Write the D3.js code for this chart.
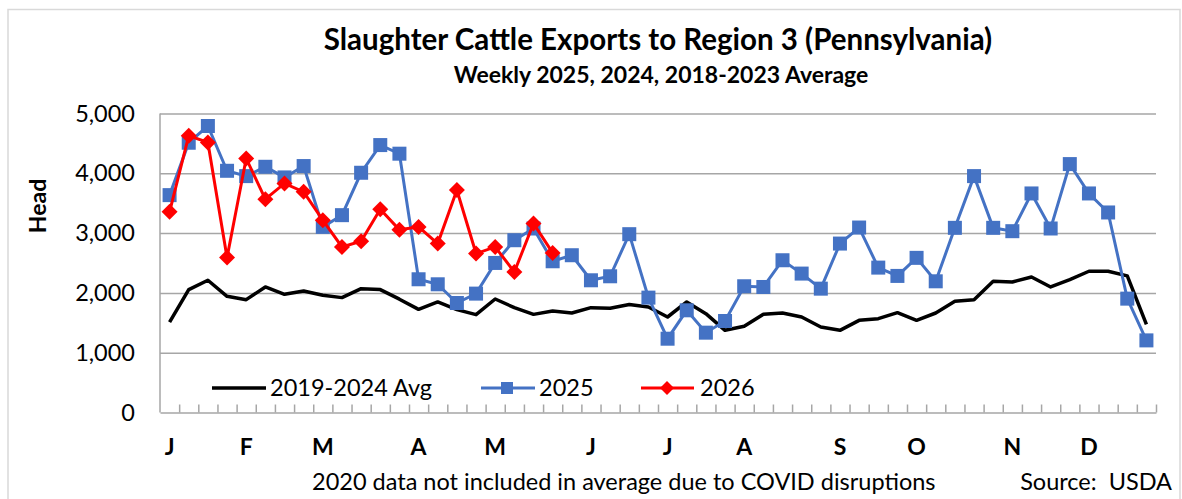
<!DOCTYPE html>
<html>
<head>
<meta charset="utf-8">
<script src="https://cdn.jsdelivr.net/npm/d3@7"></script>
<style>
  body { margin: 0; background: #fff; }
  svg { display: block; font-family: Lato, "Open Sans", sans-serif; }
</style>
</head>
<body>
<svg width="1182" height="499"></svg>
<script>
// weekly head counts
var weeks = d3.range(52);
var avg = [1512,2055,2211,1943,1887,2099,1976,2032,1960,1921,2071,2055,1895,
  1725,1848,1720,1636,1898,1753,1641,1697,1664,1753,1742,1806,
  1765,1597,1848,1653,1374,1441,1642,1664,1597,1429,
  1374,1541,1569,1670,1541,1664,1859,1887,2194,2183,2267,2099,2223,2362,2362,2284,1474];
var s2025 = [3635,4511,4791,4042,3953,4109,3931,4121,3104,3300,4009,4472,4328,
  2228,2144,1831,1988,2501,2881,3077,2529,2630,2211,2278,2982,
  1921,1234,1709,1335,1530,2111,2099,2546,2323,2071,
  2825,3093,2423,2284,2586,2194,3088,3953,3088,3032,3663,3077,4154,3663,3345,1904,1206];
var s2026 = [3355,4628,4517,2591,4248,3568,3831,3690,3216,2769,2864,3400,3055,
  3104,2825,3719,2658,2769,2350,3160,2669];
var monthWeeks = [0,4,8,13,17,22,26,30,35,39,44,48];
var monthLabels = ["J","F","M","A","M","J","J","A","S","O","N","D"];
var yTicks = [0,1000,2000,3000,4000,5000];

var svg = d3.select("svg");
var pLeft = 160, pRight = 1156, pTop = 113.5, pBottom = 412.5;
var fs = 23.5;

// chart frame
svg.append("rect").attr("x", 8).attr("y", 9.5).attr("width", 1172).attr("height", 500)
  .attr("fill", "none").attr("stroke", "#d9d9d9").attr("stroke-width", 1.5);

var x = d3.scaleBand().domain(weeks).range([pLeft, pRight]);
var xb = d3.scaleLinear().domain([0, 52]).range([pLeft, pRight]);
var y = d3.scaleLinear().domain([0, 5000]).range([pBottom, pTop]);

// gridlines
svg.append("g")
  .attr("transform", "translate(" + pLeft + ",0)")
  .call(d3.axisLeft(y).tickValues(yTicks.slice(1)).tickSize(-(pRight - pLeft)).tickFormat(""))
  .call(g => g.select(".domain").remove())
  .call(g => g.selectAll("line").attr("stroke", "#a6a6a6").attr("stroke-width", 1.5));

// y labels
svg.append("g")
  .attr("transform", "translate(" + pLeft + ",0)")
  .call(d3.axisLeft(y).tickValues(yTicks).tickSize(0).tickPadding(25).tickFormat(d3.format(",")))
  .call(g => g.select(".domain").remove())
  .call(g => g.selectAll("text").attr("font-family", "Lato").attr("font-size", fs).attr("fill", "#000"));

// left axis line
svg.append("line").attr("x1", pLeft).attr("x2", pLeft).attr("y1", pTop).attr("y2", pBottom)
  .attr("stroke", "#a6a6a6").attr("stroke-width", 1.5);

// x axis with inner ticks between weeks
svg.append("g")
  .attr("transform", "translate(0," + pBottom + ")")
  .call(d3.axisBottom(xb).tickValues(d3.range(1, 53)).tickSizeInner(-8).tickSizeOuter(0).tickFormat(""))
  .call(g => g.select(".domain").attr("stroke", "#a6a6a6").attr("stroke-width", 1.5))
  .call(g => g.selectAll("line").attr("stroke", "#a6a6a6").attr("stroke-width", 1.5));

// month labels
svg.append("g")
  .attr("transform", "translate(0," + pBottom + ")")
  .call(d3.axisBottom(x).tickValues(monthWeeks).tickSize(0).tickPadding(26)
    .tickFormat(d => monthLabels[monthWeeks.indexOf(d)]))
  .call(g => g.select(".domain").remove())
  .call(g => g.selectAll("text").attr("font-family", "Lato").attr("font-size", 23)
    .attr("font-weight", "bold").attr("fill", "#000"));

var cx = d => x(d) + x.bandwidth() / 2;
var line = d3.line().x((d, i) => cx(i)).y(d => y(d));

svg.append("path").datum(avg).attr("d", line)
  .attr("fill", "none").attr("stroke", "#000").attr("stroke-width", 3.5).attr("stroke-linejoin", "round");

svg.append("path").datum(s2025).attr("d", line)
  .attr("fill", "none").attr("stroke", "#4472c4").attr("stroke-width", 3);
svg.append("g").selectAll("rect").data(s2025).join("rect")
  .attr("x", (d, i) => cx(i) - 7).attr("y", d => y(d) - 7)
  .attr("width", 14).attr("height", 14).attr("fill", "#4472c4");

svg.append("path").datum(s2026).attr("d", line)
  .attr("fill", "none").attr("stroke", "#ff0000").attr("stroke-width", 3);
var diamond = "M0,-8L8,0L0,8L-8,0Z";
svg.append("g").selectAll("path").data(s2026).join("path")
  .attr("transform", (d, i) => "translate(" + cx(i) + "," + y(d) + ")")
  .attr("d", diamond).attr("fill", "#ff0000");

// legend
var ly = 388;
var leg = svg.append("g").attr("font-size", fs).attr("fill", "#000");
leg.append("line").attr("x1", 212).attr("x2", 266).attr("y1", ly).attr("y2", ly)
  .attr("stroke", "#000").attr("stroke-width", 3.5);
leg.append("text").attr("x", 270).attr("y", ly + 8).text("2019-2024 Avg");
leg.append("line").attr("x1", 481).attr("x2", 535).attr("y1", ly).attr("y2", ly)
  .attr("stroke", "#4472c4").attr("stroke-width", 3);
leg.append("rect").attr("x", 501).attr("y", ly - 6).attr("width", 12).attr("height", 12).attr("fill", "#4472c4");
leg.append("text").attr("x", 539).attr("y", ly + 8).text("2025");
leg.append("line").attr("x1", 641).attr("x2", 694).attr("y1", ly).attr("y2", ly)
  .attr("stroke", "#ff0000").attr("stroke-width", 3);
leg.append("path").attr("transform", "translate(667," + ly + ")").attr("d", "M0,-7L7,0L0,7L-7,0Z").attr("fill", "#ff0000");
leg.append("text").attr("x", 700).attr("y", ly + 8).text("2026");

// titles
svg.append("text").attr("x", 658).attr("y", 50).attr("text-anchor", "middle")
  .attr("font-size", 29.5).attr("font-weight", "bold").text("Slaughter Cattle Exports to Region 3 (Pennsylvania)");
svg.append("text").attr("x", 661).attr("y", 83).attr("text-anchor", "middle")
  .attr("font-size", 23).attr("font-weight", "bold").text("Weekly 2025, 2024, 2018-2023 Average");

svg.append("text").attr("transform", "translate(46,206) rotate(-90)").attr("text-anchor", "middle")
  .attr("font-size", 23).attr("font-weight", "bold").text("Head");

svg.append("text").attr("x", 312).attr("y", 490).attr("font-size", fs)
  .text("2020 data not included in average due to COVID disruptions");
svg.append("text").attr("x", 1172).attr("y", 490).attr("text-anchor", "end").attr("font-size", fs)
  .attr("xml:space", "preserve").text("Source:  USDA");
</script>
</body>
</html>
